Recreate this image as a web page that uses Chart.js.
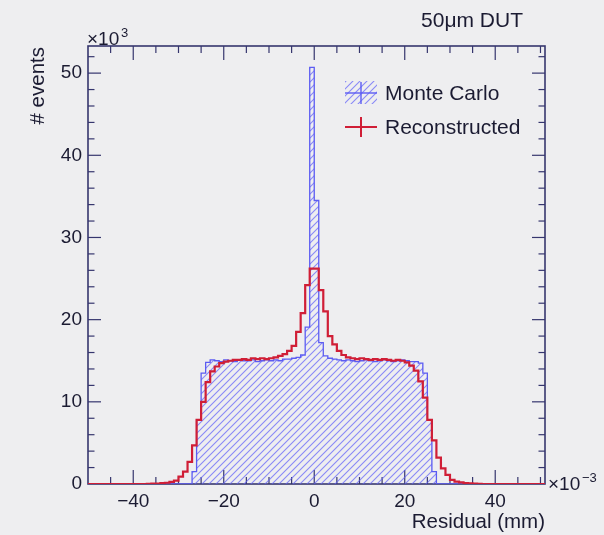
<!DOCTYPE html>
<html>
<head>
<meta charset="utf-8">
<script src="https://cdn.jsdelivr.net/npm/chart.js@4.4.1/dist/chart.umd.min.js"></script>
<style>
html,body{margin:0;padding:0;background:#eeeef0;}
canvas{display:block;}
</style>
</head>
<body>
<canvas id="c" width="604" height="535"></canvas>
<script>
// bins of 1 (x10^-3 mm) starting at -50
const BIN_MIN = -50, BIN_WIDTH = 1;

// thousands of events per bin, bins -50 .. 50
const monteCarlo = [
  0,0,0,0,0,0,0,0,0,0, 0,0,0,0,0,0,0,0,0,0, 0,0,0,
  1.5,7.8,13.5,14.8,15.1,15.0,14.9,15.1,15.0,14.9,
  15.1,15.0,15.0,15.1,14.9,15.0,15.1,15.0,15.1,15.0,
  15.2,15.2,15.3,15.4,15.7,19.1,50.7,34.5,17.2,15.6,
  15.3,15.2,15.1,15.0,15.1,15.0,14.9,15.0,15.1,15.0,
  14.9,15.0,15.1,15.0,14.9,15.0,15.1,15.0,14.9,14.9,
  14.7,13.5,7.8,1.5,
  0,0,0,0,0,0,0,0,0,0, 0,0,0,0,0,0,0,0,0,0, 0,0,0,0
];

const reconstructed = [
  0,0,0,0,0,0,0,0,0,0, 0,0,0,
  0.02,0.04,0.06,0.1,0.15,0.25,0.4,0.9,1.5,2.7,
  4.7,7.8,10.0,12.4,13.7,14.3,14.7,14.9,15.0,15.1,
  15.1,15.2,15.1,15.3,15.2,15.3,15.2,15.3,15.4,15.6,
  15.8,16.2,16.8,18.5,20.8,24.2,26.2,26.2,23.6,21.0,
  18.0,17.0,16.2,15.7,15.4,15.3,15.2,15.3,15.2,15.1,
  15.2,15.1,15.2,15.1,15.0,15.1,15.0,14.8,14.4,13.8,
  12.5,10.5,7.8,5.3,3.2,1.9,1.1,0.5,0.3,0.2,
  0.12,0.08,0.05,0.03,
  0,0,0,0,0,0,0,0,0,0, 0,0,0,0
];

const xTickValues = [-40, -20, 0, 20, 40];
const yTickValues = [0, 10, 20, 30, 40, 50];

const FONT = "'Liberation Sans', Arial, Helvetica, sans-serif";
const TXT = "#1b1b32";
const FRAME = "#36366e";
const RED = "#d01e36";
const BLUE = "#5c5cf2";

function histPoints(vals){
  const pts = vals.map((v, i) => ({ x: BIN_MIN + i * BIN_WIDTH, y: v }));
  pts.push({ x: BIN_MIN + vals.length * BIN_WIDTH, y: vals[vals.length - 1] });
  return pts;
}

function makeHatch(color){
  const s = 7;
  const c = document.createElement("canvas");
  c.width = s; c.height = s;
  const g = c.getContext("2d");
  g.strokeStyle = color;
  g.lineWidth = 1.1;
  g.beginPath();
  g.moveTo(0, s); g.lineTo(s, 0);
  g.moveTo(-1, 1); g.lineTo(1, -1);
  g.moveTo(s - 1, s + 1); g.lineTo(s + 1, s - 1);
  g.stroke();
  return g.createPattern(c, "repeat");
}
const hatch = makeHatch("rgba(98,98,250,0.72)");

function seg(ctx, x1, y1, x2, y2){
  ctx.beginPath(); ctx.moveTo(x1, y1); ctx.lineTo(x2, y2); ctx.stroke();
}

// ROOT style frame with inward ticks on all four sides
const frame = {
  id: "frame",
  beforeDatasetsDraw(chart){
    const { ctx, chartArea: a, scales: { x, y } } = chart;
    ctx.save();
    ctx.strokeStyle = FRAME;
    ctx.lineWidth = 1.6;
    ctx.strokeRect(a.left, a.top, a.right - a.left, a.bottom - a.top);
    ctx.lineWidth = 1.2;
    for (let v = -45; v <= 50; v += 5) {
      const px = x.getPixelForValue(v);
      const len = v % 20 === 0 ? 14 : 7;
      seg(ctx, px, a.bottom, px, a.bottom - len);
      seg(ctx, px, a.top, px, a.top + len);
    }
    for (let v = 2; v <= 52; v += 2) {
      const py = y.getPixelForValue(v);
      const len = v % 10 === 0 ? 13 : 6.5;
      seg(ctx, a.left, py, a.left + len, py);
      seg(ctx, a.right, py, a.right - len, py);
    }
    ctx.restore();
  },
  afterDraw(chart){
    const { ctx, chartArea: a } = chart;
    ctx.save();
    ctx.fillStyle = TXT;

    // title top right
    ctx.font = "21px " + FONT;
    ctx.textAlign = "right";
    ctx.textBaseline = "alphabetic";
    ctx.fillText("50\u03bcm DUT", 523, 27);

    // y exponent
    ctx.textAlign = "left";
    ctx.font = "19px " + FONT;
    ctx.fillText("\u00d710", a.left - 1, a.top - 1);
    ctx.font = "13px " + FONT;
    ctx.fillText("3", a.left + 33, a.top - 9);

    // x exponent
    ctx.font = "19px " + FONT;
    ctx.fillText("\u00d710", a.right + 3, a.bottom + 6);
    ctx.font = "13px " + FONT;
    ctx.fillText("\u22123", a.right + 37, a.bottom - 2);

    // axis titles
    ctx.font = "20.5px " + FONT;
    ctx.textAlign = "right";
    ctx.fillText("Residual (mm)", a.right, 528);
    ctx.save();
    ctx.translate(44, a.top + 1);
    ctx.rotate(-Math.PI / 2);
    ctx.textAlign = "right";
    ctx.fillText("# events", 0, 0);
    ctx.restore();

    // legend
    const lx = 345, lw = 32, tx = 385;
    const mc = chart.data.datasets[1], rc = chart.data.datasets[0];
    const r1 = 93, r2 = 127;
    ctx.fillStyle = hatch;
    ctx.fillRect(lx, r1 - 12, lw, 23);
    ctx.strokeStyle = mc.borderColor; ctx.lineWidth = 1.4;
    seg(ctx, lx, r1, lx + lw, r1);
    seg(ctx, lx + lw / 2, r1 - 11, lx + lw / 2, r1 + 11);
    ctx.strokeStyle = rc.borderColor; ctx.lineWidth = 2;
    seg(ctx, lx, r2, lx + lw, r2);
    seg(ctx, lx + lw / 2, r2 - 10, lx + lw / 2, r2 + 10);
    ctx.fillStyle = TXT;
    ctx.textAlign = "left";
    ctx.textBaseline = "middle";
    ctx.font = "21px " + FONT;
    ctx.fillText(mc.label, tx, r1 + 1);
    ctx.fillText(rc.label, tx, r2 + 1);
    ctx.restore();
  }
};

new Chart(document.getElementById("c"), {
  type: "line",
  data: {
    datasets: [
      { label: "Reconstructed", data: histPoints(reconstructed), stepped: "before",
        borderColor: RED, borderWidth: 2.2, pointRadius: 0, fill: false, order: 0 },
      { label: "Monte Carlo", data: histPoints(monteCarlo), stepped: "before",
        borderColor: BLUE, borderWidth: 1.3, backgroundColor: hatch, fill: "origin",
        pointRadius: 0, order: 1 }
    ]
  },
  options: {
    responsive: false,
    animation: false,
    devicePixelRatio: 1,
    layout: { padding: { top: 46, right: 59, left: 0, bottom: 0 } },
    plugins: { legend: { display: false }, tooltip: { enabled: false } },
    scales: {
      x: {
        type: "linear", min: -50, max: 51,
        grid: { display: false, drawTicks: false }, border: { display: false },
        afterBuildTicks: s => { s.ticks = xTickValues.map(v => ({ value: v })); },
        afterFit: s => { s.height = 51; },
        ticks: { padding: 6, maxRotation: 0, autoSkip: false, color: TXT,
          font: { family: FONT, size: 19 },
          callback: v => String(v).replace("-", "\u2212") }
      },
      y: {
        type: "linear", min: 0, max: 53.3,
        grid: { display: false, drawTicks: false }, border: { display: false },
        afterBuildTicks: s => { s.ticks = yTickValues.map(v => ({ value: v })); },
        afterFit: s => { s.width = 88; },
        ticks: { padding: 6, color: TXT, font: { family: FONT, size: 19 } }
      }
    }
  },
  plugins: [frame]
});
</script>
</body>
</html>
